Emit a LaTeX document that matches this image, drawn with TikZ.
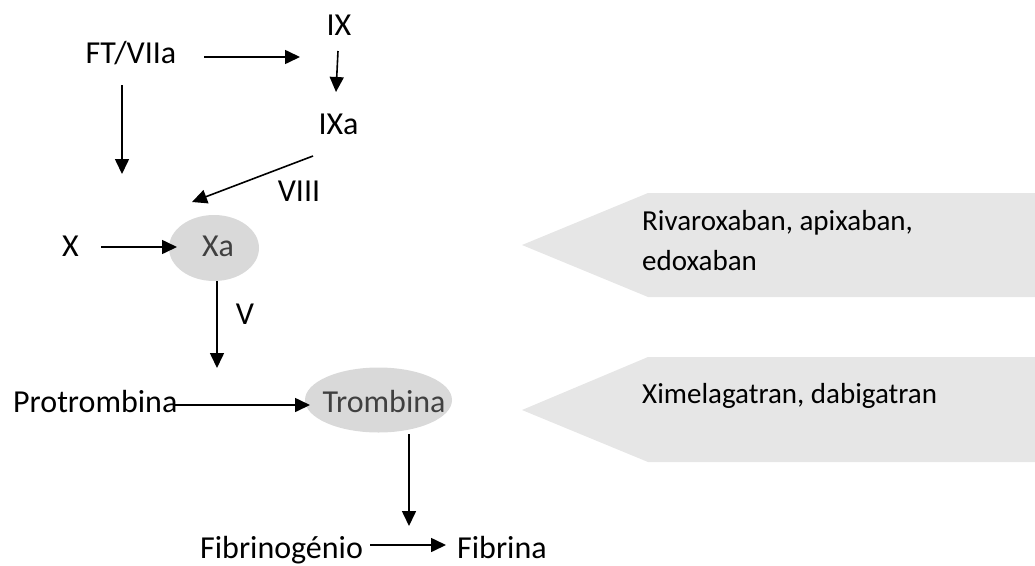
\documentclass[tikz,border=0pt]{standalone}
\usepackage{fontspec}
\setmainfont{Carlito}
\usetikzlibrary{arrows.meta,shapes.geometric}
\definecolor{ellfill}{HTML}{D9D9D9}
\definecolor{penfill}{HTML}{E6E6E6}
\definecolor{elltext}{HTML}{404040}
\begin{document}
\begin{tikzpicture}[x=1pt,y=-1pt,
  lbl/.style={inner sep=0pt,font=\fontsize{32}{38}\selectfont},
  drug/.style={inner sep=0pt,font=\fontsize{29}{34}\selectfont},
  ell/.style={ellipse,fill=ellfill,inner sep=0pt},
  arr/.style={-{Triangle[length=15pt,width=14pt]},line width=1.6pt},
  pent/.style={fill=penfill,draw=none}]
\useasboundingbox (0,0) rectangle (1035,565);
% pentagons
\path[pent] (522,245) -- (648,193) -- (1035,193) -- (1035,297) -- (648,297) -- cycle;
\path[pent] (522,410) -- (648,357) -- (1035,357) -- (1035,462) -- (648,462) -- cycle;
% ellipses
\node[ell,minimum width=90pt,minimum height=66pt] (XaE) at (214,248) {};
\node[ell,minimum width=147pt,minimum height=65pt] (TrE) at (378.5,400) {};
% text nodes
\node[lbl,anchor=base,text=elltext] (Xa) at (218,256) {Xa};
\node[lbl,anchor=base,text=elltext] (Tr) at (384,412) {Trombina};
\node[lbl,anchor=base] (FT) at (131,63) {FT/VIIa};
\node[lbl,anchor=base] (IX) at (339,35) {IX};
\node[lbl,anchor=base] (IXa) at (338.5,134) {IXa};
\node[lbl,anchor=base] (VIII) at (299,201) {VIII};
\node[lbl,anchor=base] (X) at (70.5,256) {X};
\node[lbl,anchor=base] (V) at (245,324) {V};
\node[lbl,anchor=base west] (Pro) at (13,412) {Protrombina};
\node[lbl,anchor=base west] (Fbg) at (200,558) {Fibrinogénio};
\node[lbl,anchor=base west] (Fib) at (457,558) {Fibrina};
\node[drug,anchor=base west] (R1) at (642,230) {Rivaroxaban, apixaban,};
\node[drug,anchor=base west] (R2) at (642,270) {edoxaban};
\node[drug,anchor=base west] (Xim) at (642,403) {Ximelagatran, dabigatran};
% arrow end coordinates
\coordinate (a1s) at (204,57);  \coordinate (a1e) at (300,57);
\coordinate (a2s) at (338,51);  \coordinate (a2e) at (336,92);
\coordinate (a3s) at (122,85);  \coordinate (a3e) at (122,174);
\coordinate (a4s) at (313,156); \coordinate (a4e) at (192,202);
\coordinate (a5s) at (101,247); \coordinate (a5e) at (177,247);
\coordinate (a6s) at (217,281); \coordinate (a6e) at (217,368);
\coordinate (a7s) at (175,405); \coordinate (a7e) at (310,405);
\coordinate (a8s) at (409,434); \coordinate (a8e) at (409,526);
\coordinate (a9s) at (370,545); \coordinate (a9e) at (446,545);
% connectors
\draw[arr] (a1s) -- (a1e);
\draw[arr] (a2s) -- (a2e);
\draw[arr] (a3s) -- (a3e);
\draw[arr] (a4s) -- (a4e);
\draw[arr] (a5s) -- (a5e);
\draw[arr] (a6s) -- (a6e);
\draw[arr] (a7s) -- (a7e);
\draw[arr] (a8s) -- (a8e);
\draw[arr] (a9s) -- (a9e);
\end{tikzpicture}
\end{document}
